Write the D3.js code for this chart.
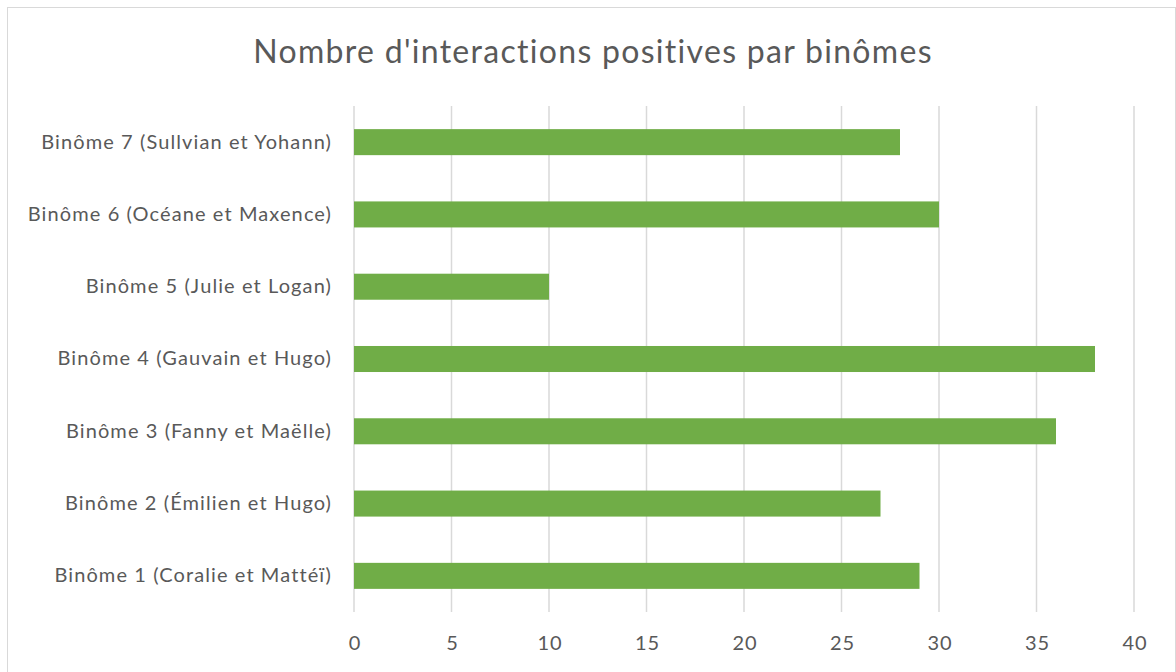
<!DOCTYPE html>
<html>
<head>
<meta charset="utf-8">
<script src="https://cdn.jsdelivr.net/npm/d3@7"></script>
<style>
  body { margin: 0; background: #fff; }
  text { font-family: Lato, "Open Sans", sans-serif; fill: #595959; }
</style>
</head>
<body>
<div id="chart-root"></div>
<script>
// data
var categories = [
  "Binôme 1 (Coralie et Mattéï)",
  "Binôme 2 (Émilien et Hugo)",
  "Binôme 3 (Fanny et Maëlle)",
  "Binôme 4 (Gauvain et Hugo)",
  "Binôme 5 (Julie et Logan)",
  "Binôme 6 (Océane et Maxence)",
  "Binôme 7 (Sullvian et Yohann)"
];
var values = [29, 27, 36, 38, 10, 30, 28];
var xTicks = [0, 5, 10, 15, 20, 25, 30, 35, 40];
var title = "Nombre d'interactions positives par binômes";

(function () {
  var W = 1176, H = 672;
  var margin = { top: 106, left: 354, right: 42, bottom: 60 },
      width  = W - margin.left - margin.right,
      height = H - margin.top - margin.bottom;

  var svg = d3.select("#chart-root")
    .append("svg")
      .attr("width", W)
      .attr("height", H);

  // chart border
  svg.append("rect")
      .attr("x", 7.5).attr("y", 7.5)
      .attr("width", W - 8).attr("height", H)
      .attr("fill", "none")
      .attr("stroke", "#d9d9d9")
      .attr("stroke-width", 1);

  svg.append("text")
      .attr("x", 593)
      .attr("y", 63)
      .attr("text-anchor", "middle")
      .style("font-size", "32px")
      .style("letter-spacing", "1.3px")
      .text(title);

  var g = svg.append("g")
      .attr("transform", "translate(" + margin.left + "," + margin.top + ")");

  var x = d3.scaleLinear()
      .domain([0, 40])
      .range([0, width]);

  // first category at the bottom
  var y = d3.scaleBand()
      .domain(categories.slice().reverse())
      .range([0, height])
      .paddingInner(0.64)
      .paddingOuter(0.32);

  // gridlines
  g.selectAll(".grid")
    .data(xTicks)
    .enter().append("line")
      .attr("class", "grid")
      .attr("x1", function (d) { return x(d); })
      .attr("x2", function (d) { return x(d); })
      .attr("y1", 0)
      .attr("y2", height)
      .attr("stroke", "#d9d9d9")
      .attr("stroke-width", 1.5);

  // bars
  g.selectAll(".bar")
    .data(categories)
    .enter().append("rect")
      .attr("class", "bar")
      .attr("x", x(0))
      .attr("y", function (d) { return y(d); })
      .attr("width", function (d, i) { return x(values[i]) - x(0); })
      .attr("height", y.bandwidth())
      .attr("fill", "#70ad47");

  // x axis
  var xAxis = g.append("g")
      .attr("transform", "translate(0," + height + ")")
      .call(d3.axisBottom(x).tickValues(xTicks).tickSize(0).tickPadding(24));
  xAxis.select(".domain").remove();
  xAxis.selectAll("text")
      .style("font-size", "20px")
      .style("letter-spacing", "1px")
      .attr("dx", "0.5px")
      .attr("fill", "#595959");

  // y axis
  var yAxis = g.append("g")
      .call(d3.axisLeft(y).tickSize(0).tickPadding(22));
  yAxis.select(".domain").remove();
  yAxis.selectAll("text")
      .style("font-size", "20px")
      .style("letter-spacing", "1.1px")
      .attr("fill", "#595959");
})();
</script>
</body>
</html>
